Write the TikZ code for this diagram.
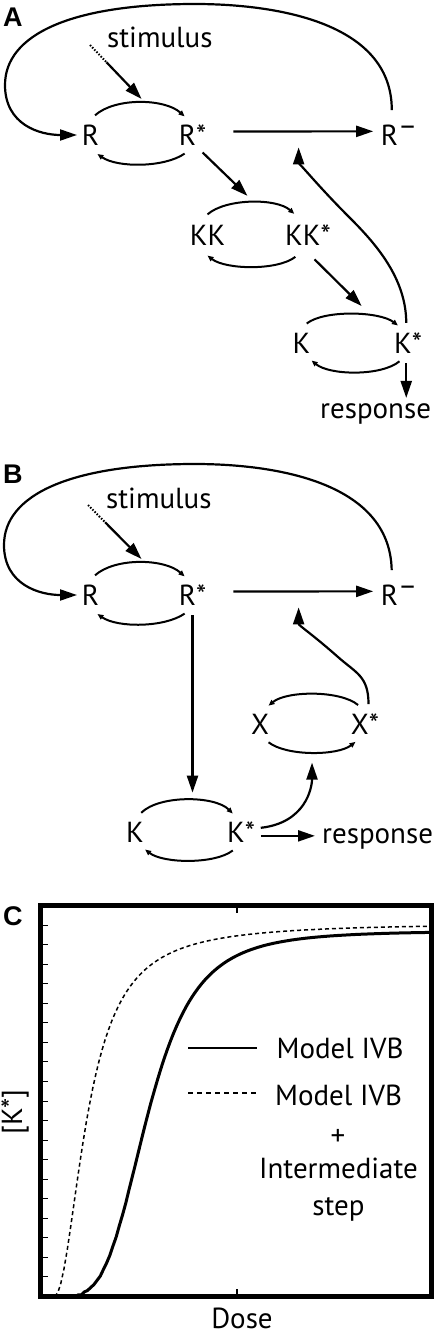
\documentclass[tikz,border=0pt]{standalone}
\usepackage{fontspec}
\setmainfont{PT Sans}
\newfontfamily\panelfont{Liberation Sans}
\usetikzlibrary{arrows.meta,calc}

\newcommand{\rminus}{R\raisebox{.33em}{\textendash}}

\begin{document}
\begin{tikzpicture}[x=1pt, y=-1pt,
  spec/.style={circle, inner sep=0pt, minimum size=40pt, font=\fontsize{29}{31}\selectfont},
  txt/.style={inner sep=0pt, font=\fontsize{29}{31}\selectfont},
  panel/.style={inner sep=0pt, anchor=base west, font=\panelfont\bfseries\fontsize{27}{30}\selectfont},
  big/.style={line width=2.2pt, -{Triangle[length=17pt,width=11pt]}},
  small/.style={line width=2pt, -{Triangle[length=6pt,width=5pt]}},
  dots/.style={line width=2pt, dash pattern=on 1.5pt off 1.6pt}]
  \useasboundingbox (0,0) rectangle (438,1335);

  % ---------- A ----------
  \node[panel] (pA) at (3,27) {A};
  \node[spec] (R)   at (90.5,135) {R};
  \node[spec] (Rs)  at (192.5,135) {R*};
  \node[spec] (Rm)  at (399,135) {\rminus};
  \node[spec] (KK)  at (207.5,235) {KK};
  \node[spec] (KKs) at (308,235) {KK*};
  \node[spec] (K)   at (301.5,343) {K};
  \node[spec] (Ks)  at (408,343) {K*};
  \node[txt, anchor=base west] (stim) at (107,48) {stimulus};
  \node[txt, anchor=base west] (resp) at (320,418) {response};
  \coordinate (sA) at (90,45);

  \draw[small] (R.77) .. controls +(20,-18) and +(-20,-18) .. (Rs.113) coordinate[pos=.55] (rA);
  \draw[small] (Rs.-113) .. controls +(-20,14) and +(20,14) .. (R.-70);
  \draw[small] (KK.90) .. controls +(18,-16) and +(-18,-16) .. (KKs.123) coordinate[pos=.53] (kA);
  \draw[small] (KKs.-120) .. controls +(-18,14) and +(18,14) .. (KK.-90);
  \draw[small] (K.75) .. controls +(18,-14) and +(-18,-14) .. (Ks.120) coordinate[pos=.68] (kB);
  \draw[small] (Ks.-115) .. controls +(-18,15) and +(18,15) .. (K.-60);

  \coordinate (sB) at ($(sA)!.3!(rA)$);
  \draw[dots] (sA) -- (sB);
  \draw[big, shorten >=5pt] (sB) -- (rA);
  \draw[big, shorten <=21pt, shorten >=5pt] (Rs.10) -- (Rm.170) coordinate[pos=.52] (mA);
  \draw[big, shorten <=5pt, shorten >=13.5pt] (Rm.110) .. controls (392,20) and (270,4) .. (195,4)
    .. controls (70,4) and (5,35) .. (5,85) .. controls (5,125) and (40,135) .. (R.center);
  \draw[big, shorten >=9pt] (Rs.-60) -- (kA);
  \draw[big, shorten >=14pt] (KKs.-75) -- (kB);
  \draw[big, shorten >=5pt] (Ks.-95) -- (Ks.-95 |- resp.north);
  \draw[big, shorten >=16pt] (Ks.95) .. controls +(0,-45) and +(25,25) .. (350,218)
    .. controls +(-35,-35) and +(0,30) .. (mA);

  % ---------- B ----------
  \node[panel] (pB) at (3,483) {B};
  \node[spec] (bR)  at (90.5,595) {R};
  \node[spec] (bRs) at (192.5,595) {R*};
  \node[spec] (bRm) at (399,595) {\rminus};
  \node[spec] (bX)  at (260,724) {X};
  \node[spec] (bXs) at (365,724) {X*};
  \node[spec] (bK)  at (135,832) {K};
  \node[spec] (bKs) at (241,832) {K*};
  \node[txt, anchor=base west] (bstim) at (106,508) {stimulus};
  \node[txt, anchor=base west] (bresp) at (322,843) {response};
  \coordinate (bsA) at (88,505);

  \draw[small] (bR.77) .. controls +(20,-18) and +(-20,-18) .. (bRs.113) coordinate[pos=.55] (brA);
  \draw[small] (bRs.-113) .. controls +(-20,14) and +(20,14) .. (bR.-70);
  \draw[small] (bXs.110) .. controls +(-18,-15) and +(18,-15) .. (bX.65);
  \draw[small] (bX.-65) .. controls +(18,14) and +(-18,14) .. (bXs.-118) coordinate[pos=.5] (bxA);
  \draw[small] (bK.72) .. controls +(18,-18) and +(-18,-18) .. (bKs.114) coordinate[pos=.5] (bkA);
  \draw[small] (bKs.-114) .. controls +(-18,14) and +(18,14) .. (bK.-60);

  \coordinate (bsB) at ($(bsA)!.3!(brA)$);
  \draw[dots] (bsA) -- (bsB);
  \draw[big, shorten >=5pt] (bsB) -- (brA);
  \draw[big, shorten <=21pt, shorten >=5pt] (bRs.10) -- (bRm.170) coordinate[pos=.52] (mB);
  \draw[big, shorten <=5pt, shorten >=13.5pt] (bRm.110) .. controls (390,480) and (270,464) .. (195,464)
    .. controls (70,464) and (4,495) .. (4,545) .. controls (4,585) and (40,595) .. (bR.center);
  \draw[big, shorten >=7pt] (bRs.-90) -- (bRs.-90 |- bkA);
  \draw[big, shorten >=10pt] (bKs.12) .. controls +(45,-5) and +(0,35) .. (bxA);
  \draw[big, shorten >=7pt] (bKs.-11) -- (bKs.-11 -| bresp.west);
  \draw[big, shorten >=16pt] (bXs.80) .. controls +(0,-28) and +(18,16) .. (338,657)
    .. controls +(-26,-23) and +(0,34) .. (mB);

  % ---------- C ----------
  \node[panel] (pC) at (3,925) {C};
  \draw[line width=5pt] (40.5,905.5) rectangle (431.5,1296.5);
  \foreach \k in {1,...,19}
    \draw[line width=1pt] (43,{1296.5-19.55*\k}) -- +(4.5,0);
  \draw[line width=1.3pt] (237,908) -- (237,913) (237,1294) -- (237,1289);
  \draw[line width=3pt] plot[domain=0.001:0.97, samples=120]
    ({40.5+391*(\x+0.03)}, {1296.5-365.6*\x^4/(\x^4+0.0036)});
  \draw[line width=1.5pt, dash pattern=on 4pt off 3pt] plot[domain=0.001:0.965, samples=120]
    ({40.5+391*(\x+0.035)}, {1296.5-373.4*\x^2/(\x^2+0.0077)});

  \draw[line width=2.6pt] (188,1048) -- (257,1048);
  \draw[line width=1.6pt, dash pattern=on 5pt off 4pt] (188,1093) -- (257,1093);
  \node[txt, anchor=base] (lg1) at (340,1058) {Model IVB};
  \node[txt, anchor=base] (lg2) at (338.5,1105) {Model IVB};
  \node[txt, anchor=base] (lgPlus) at (338,1145) {+};
  \node[txt, anchor=base] (lgInt) at (338.5,1178) {Intermediate};
  \node[txt, anchor=base] (lgStep) at (338.5,1215) {step};

  \node[txt, rotate=90] (ylab) at (15,1112) {[K*]};
  \node[txt, anchor=base] (xlab) at (242,1328) {Dose};
\end{tikzpicture}
\end{document}
